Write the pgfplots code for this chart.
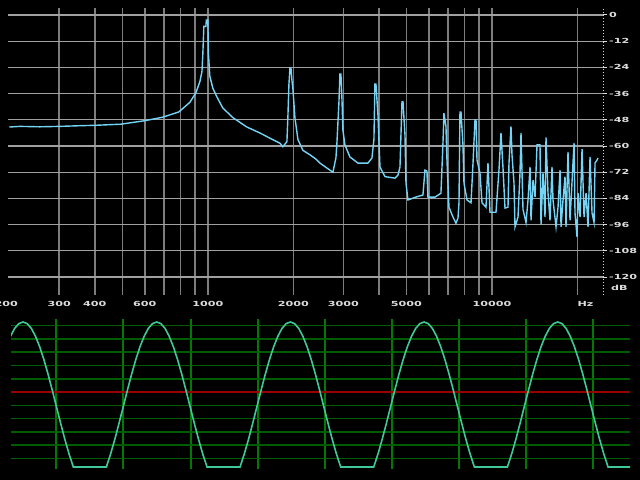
\documentclass[border=0pt]{standalone}
\usepackage{pgfplots}
\pgfplotsset{compat=1.18}
\usepackage{fontspec}
\newfontfamily\pix{DejaVu Sans}[FakeStretch=1.6]
\definecolor{spec}{RGB}{115,212,245}
\definecolor{gridv}{RGB}{125,125,125}
\definecolor{gridh}{RGB}{160,160,160}
\definecolor{labelc}{RGB}{220,220,220}
\definecolor{ghline}{RGB}{0,92,0}
\definecolor{gvline}{RGB}{0,122,0}
\definecolor{redline}{RGB}{155,0,0}
\definecolor{wave}{RGB}{64,200,155}
\pgfplotstableread[row sep=\\]{
k v\\
-3 55.7\\ -2 63.6\\ -1 68.4\\ 0 70\\ 1 68.4\\ 2 63.6\\ 3 55.7\\ 4 45.2\\ 5 32.4\\ 6 17.8\\ 7 1.9\\ 8 -14.6\\ 9 -31.1\\ 10 -47\\ 11 -61.6\\ 12 -74.4\\ 12.05 -75\\ 19.95 -75\\ 20 -74.4\\ 21 -61.6\\ 22 -47\\ 23 -31.1\\ 24 -14.6\\ 25 1.9\\ 26 17.8\\ 27 32.4\\ 28 45.2\\ 29 55.7\\ 30 63.6\\ 31 68.4\\
32 70\\ 33 68.4\\ 34 63.6\\ 35 55.7\\ 36 45.2\\ 37 32.4\\ 38 17.8\\ 39 1.9\\ 40 -14.6\\ 41 -31.1\\ 42 -47\\ 43 -61.6\\ 44 -74.4\\ 44.05 -75\\ 51.95 -75\\ 52 -74.4\\ 53 -61.6\\ 54 -47\\ 55 -31.1\\ 56 -14.6\\ 57 1.9\\ 58 17.8\\ 59 32.4\\ 60 45.2\\ 61 55.7\\ 62 63.6\\ 63 68.4\\
64 70\\ 65 68.4\\ 66 63.6\\ 67 55.7\\ 68 45.2\\ 69 32.4\\ 70 17.8\\ 71 1.9\\ 72 -14.6\\ 73 -31.1\\ 74 -47\\ 75 -61.6\\ 76 -74.4\\ 76.05 -75\\ 83.95 -75\\ 84 -74.4\\ 85 -61.6\\ 86 -47\\ 87 -31.1\\ 88 -14.6\\ 89 1.9\\ 90 17.8\\ 91 32.4\\ 92 45.2\\ 93 55.7\\ 94 63.6\\ 95 68.4\\
96 70\\ 97 68.4\\ 98 63.6\\ 99 55.7\\ 100 45.2\\ 101 32.4\\ 102 17.8\\ 103 1.9\\ 104 -14.6\\ 105 -31.1\\ 106 -47\\ 107 -61.6\\ 108 -74.4\\ 108.05 -75\\ 115.95 -75\\ 116 -74.4\\ 117 -61.6\\ 118 -47\\ 119 -31.1\\ 120 -14.6\\ 121 1.9\\ 122 17.8\\ 123 32.4\\ 124 45.2\\ 125 55.7\\ 126 63.6\\ 127 68.4\\
128 70\\ 129 68.4\\ 130 63.6\\ 131 55.7\\ 132 45.2\\ 133 32.4\\ 134 17.8\\ 135 1.9\\ 136 -14.6\\ 137 -31.1\\ 138 -47\\ 139 -61.6\\ 140 -74.4\\ 140.05 -75\\ 145.3 -75\\
}\wavetable
\begin{document}
\begin{tikzpicture}[x=1bp,y=1bp]
\fill[black] (0,0) rectangle (640,480);
\begin{axis}[name=spectrum, at={(8bp,185bp)}, anchor=south west, scale only axis,
  width=595bp, height=287bp,
  xmode=log, xmin=198, xmax=24590, ymin=-128.2, ymax=3.2,
  axis line style={draw=none},
  xtick={300,400,500,600,700,800,900,1000,2000,3000,4000,5000,6000,7000,8000,9000,10000,20000},
  xticklabels={300,400,{},600,{},{},{},\raisebox{-1.5bp}{1000},2000,3000,{},5000,{},{},{},{},\raisebox{-1.5bp}{10000},\rlap{Hz}},
  extra x ticks={200}, extra x tick labels={200},
  extra x tick style={grid=none, tick label style={xshift=-3bp}},
  ytick={0,-12,-24,-36,-48,-60,-72,-84,-96,-108,-120},
  yticklabels={0,-12,-24,-36,-48,-60,-72,-84,-96,-108,-120},
  ytick pos=right, yticklabel pos=right,
  xtick style={draw=none},
  ytick style={draw=labelc, line width=1bp},
  tick align=outside, major tick length=4bp,
  minor tick num=0,
  grid=major,
  x grid style={draw=gridv, line width=1.6bp},
  y grid style={draw=gridh, line width=1.2bp},
  ticklabel style={font={\pix\bfseries\fontsize{7}{8}\selectfont}, text=labelc, inner sep=0pt},
  xticklabel style={anchor=north, yshift=-2bp},
  yticklabel style={anchor=west, xshift=2bp},
]
\addplot[spec, line width=1.4bp] coordinates {
(200,-51.3) (218,-51.0) (256,-51.2) (301,-51.0) (354,-50.7) (403,-50.5) (494,-50.0)
(600,-48.4) (694,-46.8) (790,-44.4) (864,-40.0) (907,-35.7) (937,-30.6) (953,-26.0)
(960,-18) (968,-5.2) (984,-5.2) (988,-2.3) (1000,-2.3) (1004,-17) (1016,-28) (1041,-33.5)
(1076,-37.5) (1129,-42.6) (1225,-47) (1372,-51.3) (1524,-54) (1653,-56.4) (1793,-58.7)
(1837,-60.3) (1898,-58) (1913,-46.7) (1929,-32) (1945,-24.3) (1961,-24.3) (1977,-30)
(1993,-34) (2025,-47) (2075,-57) (2161,-62) (2287,-64) (2401,-66) (2479,-67.8)
(2755,-72) (2823,-65.5) (2846,-58.6) (2893,-40) (2916,-27) (2940,-27) (2964,-38)
(2988,-52.7) (3037,-59.5) (3162,-65) (3375,-67.8) (3659,-67.8) (3780,-65.5) (3842,-57)
(3873,-31.6) (3905,-31.6) (3969,-45.8) (4034,-69.6) (4201,-74) (4555,-74.7) (4667,-73.3)
(4744,-69.6) (4822,-39.8) (4862,-39.8) (4941,-55) (4981,-77) (5062,-84.7) (5357,-83.5)
(5715,-82.4) (5809,-71) (5904,-71.5) (5952,-83.4) (6300,-83.4) (6613,-81.6) (6722,-58.6)
(6776,-45) (6887,-51) (6943,-66.4) (7057,-88) (7290,-92.5) (7469,-95.3) (7592,-93)
(7654,-86) (7716,-44.4) (7779,-44.4) (7906,-59.5) (7971,-77) (8168,-84.7) (8437,-86)
(8575,-67.8) (8714,-48) (8786,-48) (8857,-66.4) (9073,-72.4) (9223,-86) (9526,-88)
(9681,-67.8) (9840,-90.3) (10330,-90.3) (10583,-71) (10757,-54) (10933,-70) (11112,-88.4)
(11385,-88) (11478,-67.8) (11665,-51) (11760,-64) (11953,-77) (12050,-97) (12347,-92.5)
(12549,-72.4) (12651,-54) (12857,-89) (13175,-95) (13390,-84.7) (13611,-69.6) (13721,-94)
(13946,-75.6) (14174,-83.4) (14406,-59.5) (14758,-59.5) (14878,-96) (15120,-72.4)
(15368,-92.5) (15493,-56) (15746,-81.6) (16004,-94) (16266,-69.6) (16398,-84.7)
(16804,-97) (17079,-88) (17358,-71) (17499,-97) (17783,-84.7) (18074,-74) (18221,-97)
(18519,-62.7) (18823,-94) (19130,-76.5) (19444,-58.6) (19601,-90.7) (19922,-101.7)
(20083,-81.6) (20412,-92.5) (20746,-61.4) (21086,-92.5) (21429,-81.6) (21777,-97)
(22134,-65) (22497,-90.7) (22864,-95) (23049,-67.8) (23426,-66.4) (23617,-65.5)
};
\end{axis}
\draw[labelc, line width=1bp, dash pattern=on 1bp off 2bp] (spectrum.south east) -- (spectrum.north east);
\node[anchor=west, inner sep=0pt, text=labelc, font={\pix\bfseries\fontsize{7}{8}\selectfont}] at (611bp,192bp) {dB};
\begin{axis}[name=scope, at={(11bp,11bp)}, anchor=south west, scale only axis,
  width=619bp, height=150bp,
  xmin=-2.87, xmax=145.3, ymin=-77, ymax=73,
  axis line style={draw=none},
  xtick={8,24.05,40.1,56.15,72.2,88.25,104.3,120.35,136.4},
  ytick={-66.5,-53.2,-39.9,-26.6,-13.3,13.3,26.6,39.9,53.2,66.5},
  xticklabels={}, yticklabels={},
  tick style={draw=none},
  grid=major,
  x grid style={draw=gvline, line width=2bp},
  y grid style={draw=ghline, line width=1.6bp},
]
\addplot[redline, line width=1.6bp] coordinates {(-2.87,0) (145.3,0)};
\addplot[wave, line width=1.6bp] table[x=k, y=v] {\wavetable};
\end{axis}
\pgfresetboundingbox
\path[use as bounding box] (0bp,0bp) rectangle (640bp,480bp);
\end{tikzpicture}
\end{document}
